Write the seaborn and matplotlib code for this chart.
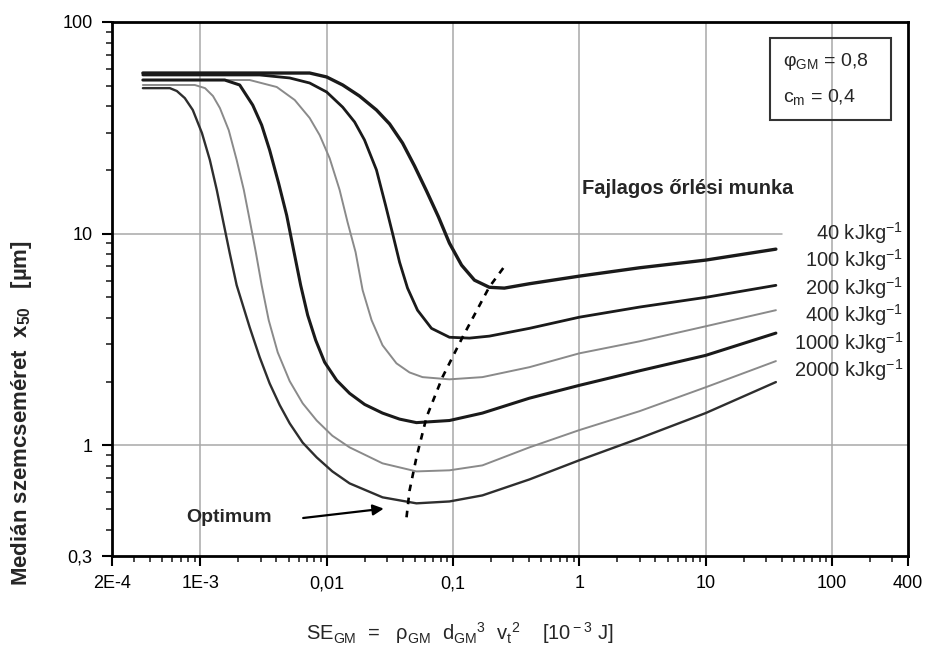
import numpy as np
import pandas as pd
import matplotlib
matplotlib.use("Agg")
import matplotlib.pyplot as plt
import seaborn as sns
from matplotlib.patches import Rectangle

# ---------------- data ----------------
energy_labels = ["40", "100", "200", "400", "1000", "2000"]

x40 = [3.51e-4, 1e-3, 3e-3, 7.34e-3, 0.0100, 0.0134, 0.0182, 0.0248, 0.0315, 0.0399, 0.0496,
       0.0618, 0.0768, 0.0938, 0.117, 0.148, 0.194, 0.255, 0.403, 1, 3, 10, 36]
y40 = [57.4, 57.4, 57.4, 57.4, 55.0, 50.4, 44.7, 38.4, 33.0, 26.8, 20.9,
       15.9, 12.0, 9.02, 7.10, 6.03, 5.58, 5.53, 5.8, 6.3, 6.9, 7.5, 8.45]

x100 = [3.51e-4, 2.95e-3, 5.1e-3, 7.34e-3, 0.0100, 0.0134, 0.01665, 0.01995, 0.0248, 0.0293, 0.0333,
        0.0378, 0.0437, 0.0524, 0.0676, 0.0938, 0.135, 0.194, 0.403, 1, 3, 10, 36]
y100 = [56.2, 56.2, 54.4, 51.5, 46.7, 39.6, 33.7, 27.7, 20.0, 13.6, 10.0,
        7.33, 5.53, 4.35, 3.57, 3.24, 3.21, 3.28, 3.57, 4.03, 4.5, 5.0, 5.7]

x200 = [3.51e-4, 2.46e-3, 4.03e-3, 5.59e-3, 7.34e-3, 8.81e-3, 0.01057, 0.01267, 0.01466, 0.01695,
        0.01927, 0.0227, 0.0277, 0.0357, 0.0453, 0.0574, 0.0938, 0.171, 0.403, 1, 3, 10, 36]
y200 = [53.2, 53.2, 49.3, 42.8, 35.2, 29.2, 22.7, 16.1, 11.3, 8.18,
        5.41, 3.90, 2.97, 2.44, 2.21, 2.10, 2.05, 2.10, 2.34, 2.72, 3.1, 3.65, 4.35]

x400 = [3.51e-4, 1.56e-3, 2.05e-3, 2.60e-3, 3.06e-3, 3.54e-3, 4.17e-3, 4.83e-3, 5.48e-3, 6.23e-3,
        7.08e-3, 8.19e-3, 9.64e-3, 0.0120, 0.0152, 0.0200, 0.0277, 0.0378, 0.0514, 0.0938, 0.171,
        0.403, 1, 3, 10, 36]
y400 = [53.2, 53.2, 50.4, 40.5, 32.6, 24.8, 17.3, 12.2, 8.36, 5.71,
        4.12, 3.14, 2.47, 2.03, 1.76, 1.56, 1.42, 1.33, 1.28, 1.31, 1.42,
        1.67, 1.92, 2.25, 2.66, 3.39]

x1000 = [3.51e-4, 9.05e-4, 1.09e-3, 1.26e-3, 1.43e-3, 1.68e-3, 1.94e-3, 2.21e-3, 2.46e-3, 2.75e-3,
         3.06e-3, 3.48e-3, 4.10e-3, 5.10e-3, 6.46e-3, 8.34e-3, 0.0111, 0.0152, 0.0277, 0.0514,
         0.0938, 0.171, 0.403, 1, 3, 10, 36]
y1000 = [50.4, 50.4, 48.7, 44.7, 39.2, 30.8, 22.3, 16.1, 11.6, 8.18,
         5.71, 3.90, 2.75, 2.01, 1.58, 1.31, 1.11, 0.978, 0.822, 0.753,
         0.762, 0.804, 0.978, 1.18, 1.45, 1.88, 2.5]

x2000 = [3.51e-4, 5.74e-4, 6.52e-4, 7.54e-4, 8.72e-4, 1.03e-3, 1.19e-3, 1.35e-3, 1.51e-3, 1.71e-3,
         1.94e-3, 2.21e-3, 2.46e-3, 2.95e-3, 3.54e-3, 4.25e-3, 5.10e-3, 6.46e-3, 8.34e-3, 0.0111,
         0.0152, 0.0277, 0.0514, 0.0938, 0.171, 0.403, 1, 3, 10, 36]
y2000 = [48.7, 48.7, 47.2, 43.7, 38.4, 29.9, 22.3, 16.1, 11.6, 8.09,
         5.71, 4.44, 3.61, 2.61, 1.96, 1.55, 1.27, 1.03, 0.877, 0.753,
         0.661, 0.568, 0.532, 0.543, 0.580, 0.69, 0.85, 1.08, 1.42, 1.99]

opt_x = [0.0429, 0.0453, 0.0514, 0.0618, 0.0826, 0.119, 0.194, 0.26]
opt_y = [0.457, 0.61, 0.877, 1.36, 2.1, 3.24, 5.6, 7.1]

xtick_vals = [2e-4, 1e-3, 0.01, 0.1, 1, 10, 100, 400]
xtick_labels = ["2E-4", "1E-3", "0,01", "0,1", "1", "10", "100", "400"]
ytick_vals = [0.3, 1, 10, 100]
ytick_labels = ["0,3", "1", "10", "100"]

series_x = [x40, x100, x200, x400, x1000, x2000]
series_y = [y40, y100, y200, y400, y1000, y2000]

frames = []
for lab, xs, ys in zip(energy_labels, series_x, series_y):
    frames.append(pd.DataFrame({"x": xs, "y": ys, "E": lab}))
df = pd.concat(frames, ignore_index=True)

# ---------------- style ----------------
sns.set_theme(style="white")
plt.rcParams["font.family"] = ["Liberation Sans", "DejaVu Sans"]
plt.rcParams["mathtext.fontset"] = "custom"
plt.rcParams["mathtext.rm"] = "Liberation Sans"
plt.rcParams["mathtext.it"] = "Liberation Sans:italic"
plt.rcParams["mathtext.bf"] = "Liberation Sans:bold"

fig = plt.figure(figsize=(9.28, 6.53), dpi=100)
ax = fig.add_axes([112 / 928, 1 - 556 / 653, 796 / 928, 534 / 653])

styles = {
    "40": dict(color="#1a1a1a", lw=2.4),
    "100": dict(color="#1a1a1a", lw=2.0),
    "200": dict(color="#8a8a8a", lw=1.4),
    "400": dict(color="#1a1a1a", lw=2.2),
    "1000": dict(color="#8a8a8a", lw=1.4),
    "2000": dict(color="#2e2e2e", lw=1.7),
}

ax.set_xscale("log")
ax.set_yscale("log")
ax.set_xlim(2e-4, 400)
ax.set_ylim(0.3, 100)

# grid lines
grid_c = "#a8a8a8"
for gx in [1e-3, 0.01, 0.1, 1, 10, 100]:
    ax.axvline(gx, color=grid_c, lw=1.1, zorder=0)
ax.axhline(1, color=grid_c, lw=1.1, zorder=0)
ax.axhline(10, xmax=(782 - 112) / 796, color=grid_c, lw=1.1, zorder=0)

for lab in energy_labels:
    sub = df[df["E"] == lab]
    sns.lineplot(data=sub, x="x", y="y", ax=ax, estimator=None, sort=False,
                 legend=False, **styles[lab])

sns.lineplot(x=opt_x, y=opt_y, ax=ax, estimator=None, sort=False, color="black",
             lw=1.9, linestyle=(0, (2.5, 2.5)), legend=False)

# ticks
ax.set_xticks(xtick_vals)
ax.set_xticklabels(xtick_labels)
ax.set_yticks(ytick_vals)
ax.set_yticklabels(ytick_labels)
ax.xaxis.set_minor_locator(matplotlib.ticker.LogLocator(base=10, subs=np.arange(2, 10), numticks=20))
ax.yaxis.set_minor_locator(matplotlib.ticker.LogLocator(base=10, subs=np.arange(2, 10), numticks=20))
ax.xaxis.set_minor_formatter(matplotlib.ticker.NullFormatter())
ax.yaxis.set_minor_formatter(matplotlib.ticker.NullFormatter())
ax.tick_params(which="major", direction="out", length=7, width=1.5, labelsize=13,
               colors="black", pad=7, bottom=True, left=True)
ax.tick_params(which="minor", direction="out", length=4, width=1.2, bottom=True, left=True)

for s in ax.spines.values():
    s.set_color("black")
    s.set_linewidth(2)

ax.set_xlabel("")
ax.set_ylabel("")

# axis labels
fig.text(460 / 928, 1 - 633 / 653,
         r"SE$_{\rm GM}$  =   ρ$_{\rm GM}$  d$_{\rm GM}$$^{\rm 3}$  v$_{\rm t}$$^{\rm 2}$    [10$^{\rm -3}$ J]",
         ha="center", va="center", fontsize=14.5)
fig.text(22 / 928, 1 - 413 / 653,
         r"Medián szemcseméret  x$_{\mathbf{50}}$   [µm]",
         ha="center", va="center", rotation=90, fontsize=16, fontweight="bold")

# legend-like labels
ax.text((582 - 112) / 796, (556 - 188) / 534, "Fajlagos őrlési munka",
        transform=ax.transAxes, ha="left", va="center", fontsize=14.5, fontweight="bold")
label_y_px = [233, 260, 288, 315, 343, 370]
for lab, py in zip(energy_labels, label_y_px):
    ax.text((903 - 112) / 796, (556 - py) / 534, lab + r" kJkg$^{-1}$",
            transform=ax.transAxes, ha="right", va="center", fontsize=14.5)

# parameter box
ax.add_patch(Rectangle(((770 - 112) / 796, (556 - 120) / 534), 121 / 796, 82 / 534,
                       transform=ax.transAxes, fill=False, edgecolor="#333333", lw=1.5, zorder=5))
ax.text((783 - 112) / 796, (556 - 62) / 534, r"φ$_{\rm GM}$ = 0,8",
        transform=ax.transAxes, ha="left", va="center", fontsize=14)
ax.text((783 - 112) / 796, (556 - 97) / 534, r"c$_{\rm m}$ = 0,4",
        transform=ax.transAxes, ha="left", va="center", fontsize=14)

# Optimum annotation
ax.annotate("", xy=(0.0298, 0.504), xytext=(0.0062, 0.452),
            arrowprops=dict(arrowstyle="-|>", color="black", lw=1.6, mutation_scale=16))
ax.text(7.8e-4, 0.457, "Optimum", ha="left", va="center", fontsize=14, fontweight="bold")

fig.savefig("out.png", dpi=100)
